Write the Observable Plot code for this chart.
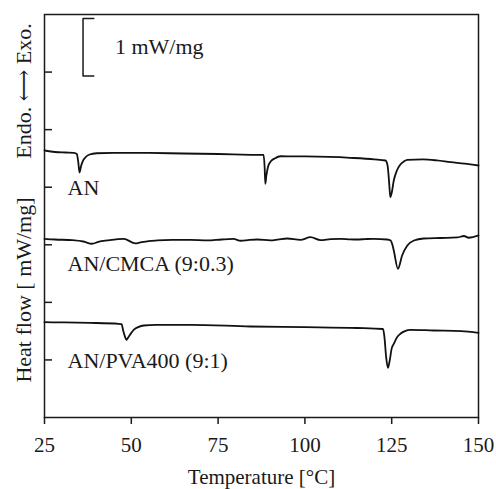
<!DOCTYPE html>
<html>
<head>
<meta charset="utf-8">
<script src="https://cdn.jsdelivr.net/npm/d3@7"></script>
<script src="https://cdn.jsdelivr.net/npm/@observablehq/plot@0.6"></script>
<style>
  html, body { margin: 0; padding: 0; background: #fff; }
</style>
</head>
<body>
<div id="chart"></div>
<script>
// ---- Data (heat flow in mW/mg, arbitrary offsets) ----
const seriesNames = ["AN", "AN/CMCA (9:0.3)", "AN/PVA400 (9:1)"];

const anT = [25, 28, 31, 33.5, 34.3, 34.7, 35.1, 35.5, 36, 36.8, 38, 40, 45, 55, 65, 75, 84.4, 88.1, 88.4, 88.6, 88.9, 89.4, 90.2, 91.3, 93, 96, 100, 113, 120, 123.2, 123.8, 124.3, 124.6, 125, 125.6, 126.5, 127.5, 128.5, 129.5, 134, 138, 142, 146, 150];
const anV = [4.638, 4.612, 4.603, 4.598, 4.577, 4.45, 4.256, 4.36, 4.45, 4.52, 4.568, 4.590, 4.598, 4.595, 4.586, 4.577, 4.563, 4.560, 4.35, 4.059, 4.20, 4.36, 4.45, 4.50, 4.538, 4.536, 4.534, 4.511, 4.485, 4.464, 4.38, 4.05, 3.827, 3.90, 4.117, 4.29, 4.395, 4.447, 4.476, 4.482, 4.465, 4.435, 4.41, 4.377];

const cmcaT = [25, 28, 33, 36.2, 38.7, 40.5, 43.1, 47.8, 51.2, 52.6, 55, 57.5, 62, 67, 71.9, 76, 79.4, 81.5, 84, 86.3, 90.1, 92.5, 94.9, 98.7, 101.6, 104.5, 107.4, 110.3, 113, 115.1, 117.5, 119.8, 123.7, 124.7, 125.2, 125.6, 126.8, 128.0, 129.5, 131.4, 134.2, 139.1, 143.9, 145.8, 147.2, 150];
const cmcaV = [3.104, 3.092, 3.080, 3.057, 3.018, 3.050, 3.075, 3.104, 3.023, 3.040, 3.065, 3.075, 3.084, 3.087, 3.075, 3.092, 3.101, 3.070, 3.085, 3.092, 3.075, 3.095, 3.109, 3.084, 3.132, 3.080, 3.097, 3.104, 3.095, 3.092, 3.100, 3.104, 3.092, 3.075, 3.000, 2.901, 2.583, 2.814, 2.988, 3.075, 3.109, 3.118, 3.127, 3.153, 3.122, 3.162];

const pvaT = [25, 30, 38.2, 46.4, 47.2, 47.7, 48.2, 48.6, 49.2, 50, 50.7, 52, 53.6, 57, 67, 84.3, 100, 115, 122.5, 122.9, 123.4, 123.9, 124.4, 125.0, 125.6, 126.5, 127.5, 128.8, 130.4, 137.1, 145, 150];
const pvaV = [1.655, 1.652, 1.644, 1.627, 1.62, 1.50, 1.40, 1.350, 1.40, 1.47, 1.522, 1.570, 1.598, 1.610, 1.610, 1.581, 1.570, 1.555, 1.537, 1.40, 1.05, 0.863, 0.98, 1.20, 1.280, 1.39, 1.454, 1.50, 1.523, 1.511, 1.50, 1.471];

// label heights (mW/mg) for the curve names
const labelV = [3.98, 2.675, 0.99];

const xTicks = [25, 50, 75, 100, 125, 150];
const yTicks = [1, 2, 3, 4, 5, 6];

// 1 mW/mg scale bar (temperature / heat-flow units)
const barT = [39.2, 36.1, 36.1, 39.2];
const barV = [6.93, 6.93, 5.93, 5.93];
const barLabelT = 45.3;
const barLabelV = 6.43;

// ---- Build tables ----
const rows = [];
[[anT, anV], [cmcaT, cmcaV], [pvaT, pvaV]].forEach(([T, V], i) => {
  T.forEach((t, j) => rows.push({series: seriesNames[i], t, v: V[j]}));
});
const labels = seriesNames.map((name, i) => ({name, v: labelV[i]}));
const bar = barT.map((t, i) => ({t, v: barV[i]}));

const serif = "'Liberation Serif', 'Times New Roman', 'DejaVu Serif', serif";
const ink = "#1a1a1a";

const chart = Plot.plot({
  width: 496,
  height: 489,
  marginLeft: 44,
  marginRight: 18,
  marginTop: 14,
  marginBottom: 72,
  x: {domain: [25, 150]},
  y: {domain: [0, 7]},
  style: {fontFamily: serif, fontSize: "22px", color: ink, background: "#fff", overflow: "visible"},
  marks: [
    Plot.frame({stroke: ink, strokeWidth: 1.5}),
    Plot.axisX({
      ticks: xTicks, tickSize: 7, tickPadding: 13, strokeWidth: 1.5,
      fontSize: 21, fill: ink,
      label: "Temperature [°C]", labelAnchor: "center", labelOffset: 66, labelArrow: "none"
    }),
    Plot.axisY({ticks: yTicks, tickSize: 8, dx: 8, strokeWidth: 1.5, tickFormat: () => "", label: null}),
    Plot.line(rows, {x: "t", y: "v", z: "series", stroke: "#111", strokeWidth: 1.8, curve: "monotone-x"}),
    Plot.text(labels, {y: "v", text: "name", frameAnchor: "left", dx: 23, textAnchor: "start", fontSize: 22, fill: ink}),
    Plot.line(bar, {x: "t", y: "v", stroke: ink, strokeWidth: 1.5}),
    Plot.text(["1 mW/mg"], {x: () => barLabelT, y: () => barLabelV, text: d => d, textAnchor: "start", fontSize: 22, fill: ink}),
    Plot.text(["Endo. \u27F7 Exo."], {frameAnchor: "left", textAnchor: "middle", rotate: -90, dx: -21, dy: -125, text: d => d, fontSize: 22, fill: ink}),
    Plot.text(["Heat flow [ mW/mg]"], {frameAnchor: "left", textAnchor: "middle", rotate: -90, dx: -21, dy: 74, text: d => d, fontSize: 22, fill: ink})
  ]
});
document.getElementById("chart").appendChild(chart);
</script>
</body>
</html>
